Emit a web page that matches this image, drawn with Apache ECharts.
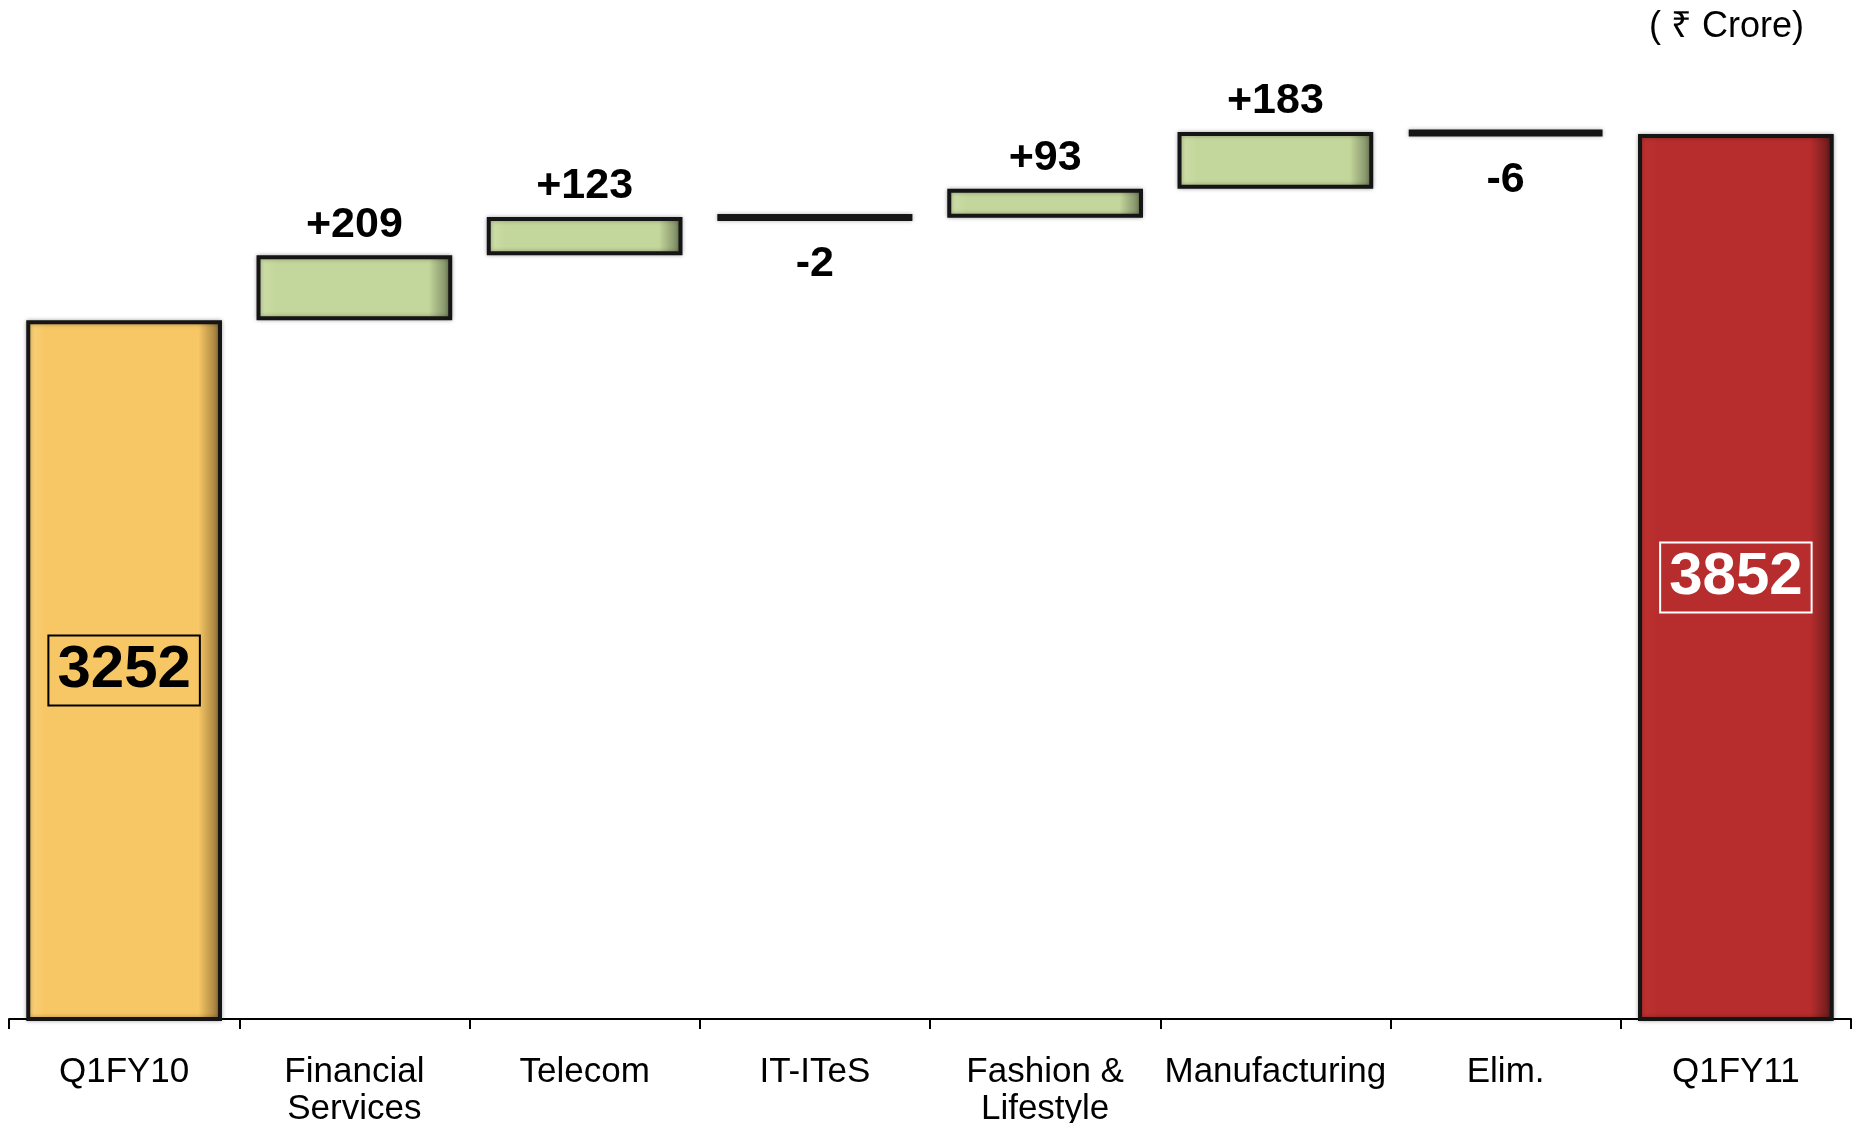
<!DOCTYPE html>
<html>
<head>
<meta charset="utf-8">
<script src="https://cdn.jsdelivr.net/npm/echarts@6/dist/echarts.min.js"></script>
<style>
  html, body { margin: 0; padding: 0; background: #fff; }
  #chart { width: 1858px; height: 1123px; }
</style>
</head>
<body>
<div id="chart"></div>
<script>
// 数据
const categories = ['Q1FY10', 'Financial\nServices', 'Telecom', 'IT-ITeS', 'Fashion &\nLifestyle', 'Manufacturing', 'Elim.', 'Q1FY11'];
const startValue = 3252;
const changes = [209, 123, -2, 93, 183, -6];
const endValue = 3852;
const unitText = '( ₹ Crore)';

// 斜面效果的水平渐变
const bevel = (light, base, dark) => ({
  type: 'linear', x: 0, y: 0, x2: 1, y2: 0,
  colorStops: [
    { offset: 0, color: light },
    { offset: 0.1, color: base },
    { offset: 0.88, color: base },
    { offset: 1, color: dark }
  ]
});

const yellow = bevel('#fbd27a', '#f7c665', '#8c6d35');
const green = bevel('#d0e0aa', '#c3d69b', '#6f7b58');
const red = bevel('#c23232', '#b72d2d', '#5e1818');

// 瀑布图：透明底座 + 变化量
const baseData = [0];
const deltaData = [];
let running = startValue;

deltaData.push({
  value: startValue,
  itemStyle: { color: yellow },
  label: {
    show: true, position: 'inside', formatter: String(startValue),
    color: '#000', fontSize: 60, fontWeight: 'bold', lineHeight: 60,
    borderColor: '#000', borderWidth: 2, padding: [6, 9, 4, 9]
  }
});

changes.forEach(c => {
  if (c >= 0) {
    baseData.push(running);
    running += c;
  } else {
    running += c;
    baseData.push(running);
  }
  deltaData.push({
    value: Math.abs(c),
    itemStyle: c >= 0 ? { color: green } : { color: '#111', borderWidth: 7 },
    label: {
      show: true,
      position: c >= 0 ? 'top' : 'bottom',
      distance: c >= 0 ? 9 : 22,
      formatter: (c > 0 ? '+' : '') + c,
      color: '#000', fontSize: 43, fontWeight: 'bold'
    }
  });
});

baseData.push(0);
deltaData.push({
  value: endValue,
  itemStyle: { color: red },
  label: {
    show: true, position: 'inside', formatter: String(endValue),
    color: '#fff', fontSize: 60, fontWeight: 'bold', lineHeight: 60,
    borderColor: '#fff', borderWidth: 2, padding: [6, 9, 4, 9]
  }
});

const chart = echarts.init(document.getElementById('chart'));
const option = {
  backgroundColor: '#fff',
  animation: false,
  textStyle: { fontFamily: 'Liberation Sans, Arial, Noto Sans, sans-serif' },
  grid: { left: 9, right: 7, top: 88, bottom: 104, outerBoundsMode: 'none', containLabel: false },
  graphic: [
    {
      type: 'text', right: 54, top: 9,
      style: { text: unitText, fontSize: 36, fill: '#000', font: '36px "Liberation Sans", "Noto Sans", "DejaVu Sans", sans-serif' }
    }
  ],
  xAxis: {
    type: 'category',
    data: categories,
    axisLine: { lineStyle: { color: '#000', width: 2 } },
    axisTick: { show: true, length: 10, lineStyle: { color: '#000', width: 2 } },
    axisLabel: { interval: 0, color: '#000', fontSize: 35, lineHeight: 37, margin: 35 }
  },
  yAxis: {
    type: 'value',
    min: 1000,
    max: 4000,
    show: false,
    splitLine: { show: false }
  },
  series: [
    {
      name: 'base',
      type: 'bar',
      stack: 'total',
      barCategoryGap: '15%',
      itemStyle: { color: 'transparent' },
      emphasis: { disabled: true },
      data: baseData
    },
    {
      name: 'value',
      type: 'bar',
      stack: 'total',
      barCategoryGap: '15%',
      clip: true,
      itemStyle: {
        borderColor: '#151515',
        borderWidth: 4,
        shadowBlur: 4,
        shadowColor: 'rgba(0,0,0,0.3)'
      },
      data: deltaData
    }
  ]
};
chart.setOption(option);
</script>
</body>
</html>
